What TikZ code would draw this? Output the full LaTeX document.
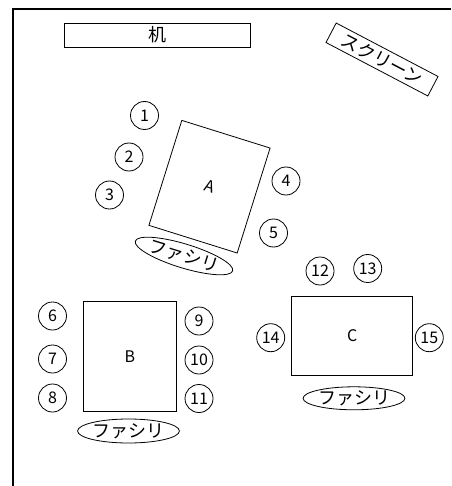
\documentclass[tikz,border=0pt]{standalone}
\usepackage{fontspec}
\setmainfont{Noto Sans CJK JP}
\usetikzlibrary{shapes.geometric}
\begin{document}
\begin{tikzpicture}[x=1pt,y=-1pt,
  every node/.style={font=\fontsize{16}{19}\selectfont, line width=0.8pt, inner sep=0pt},
  jp/.style={font=\fontsize{18}{20}\selectfont},
  box/.style={draw, rectangle},
  seat/.style={draw, circle, minimum size=28pt},
  facil/.style={draw, ellipse, jp, minimum width=97pt, minimum height=24pt},
  wall/.style={line width=1.2pt}]
\useasboundingbox (0,0) rectangle (451,486);
\draw[wall] (451,9) -- (13,9) -- (13,486);
% desk and screen
\node[box, jp, minimum width=186pt, minimum height=24pt] (desk) at (157,35) {机};
\node[box, jp, minimum width=115pt, minimum height=22pt, rotate=-27.7] (screen) at (382,59.5) {スクリーン};
% table A
\node[box, minimum width=92.5pt, minimum height=110pt, rotate=-17.4] (tA) at (209.5,186.7) {\itshape A};
\node[facil, minimum width=97pt, minimum height=24pt, rotate=-17] (fA) at (184,256) {ファシリ};
\node[seat] (s1) at (144.5,115.5) {1};
\node[seat] (s2) at (129,157) {2};
\node[seat] (s3) at (109.5,195) {3};
\node[seat] (s4) at (286,181) {4};
\node[seat] (s5) at (273.5,233) {5};
% table B
\node[box, minimum width=93.5pt, minimum height=110pt] (tB) at (130,356.7) {B};
\node[facil] (fB) at (128.5,431) {ファシリ};
\node[seat] (s6) at (52.5,316) {6};
\node[seat] (s7) at (52.5,359) {7};
\node[seat] (s8) at (52.5,398) {8};
\node[seat] (s9) at (199,321) {9};
\node[seat] (s10) at (199,360) {10};
\node[seat] (s11) at (199,398.5) {11};
% table C
\node[box, minimum width=121pt, minimum height=79pt] (tC) at (352.2,335.5) {C};
\node[facil, minimum height=23pt] (fC) at (354,398.3) {ファシリ};
\node[seat] (s12) at (320,271) {12};
\node[seat] (s13) at (367.7,268.5) {13};
\node[seat] (s14) at (270.7,337.7) {14};
\node[seat] (s15) at (429.3,337.7) {15};
\end{tikzpicture}
\end{document}
